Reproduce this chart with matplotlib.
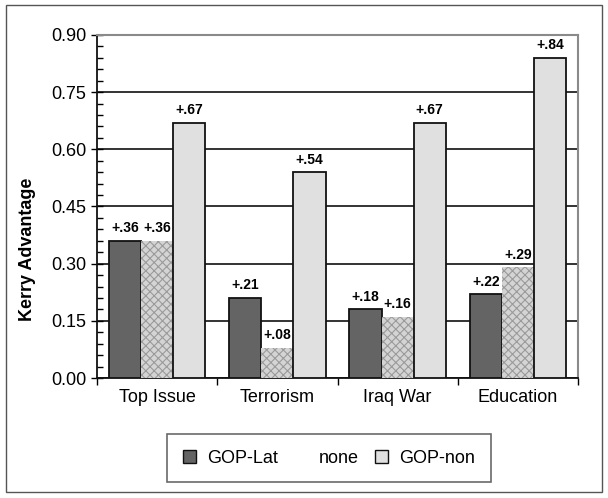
import matplotlib
matplotlib.use("Agg")
import matplotlib.pyplot as plt
import numpy as np
from matplotlib.patches import Patch, Rectangle
from matplotlib.ticker import MultipleLocator, FixedLocator, NullFormatter

plt.rcParams['font.family'] = ['Liberation Sans', 'DejaVu Sans']
plt.rcParams['hatch.color'] = '#9a9a9a'
plt.rcParams['hatch.linewidth'] = 0.8

categories = ["Top Issue", "Terrorism", "Iraq War", "Education"]
gop_lat = [0.36, 0.21, 0.18, 0.22]
none_vals = [0.36, 0.08, 0.16, 0.29]
gop_non = [0.67, 0.54, 0.67, 0.84]
series_names = ["GOP-Lat", "none", "GOP-non"]

fig = plt.figure(figsize=(6.08, 4.98), dpi=100)
ax = fig.add_axes([97 / 608, 1 - 378 / 498, (578 - 97) / 608, (378 - 35) / 498])

# outer frame around the whole figure
fig.patches.append(Rectangle((6 / 608, 6 / 498), 596 / 608, 487 / 498,
                             transform=fig.transFigure, fill=False,
                             edgecolor='#555555', linewidth=1.0))

x = np.arange(len(categories))
w = 0.267
ax.bar(x - w, gop_lat, w, color='#646464', edgecolor='#111111', linewidth=1.3, zorder=3)
ax.bar(x, none_vals, w, color='#d4d4d4', hatch='xxxx', edgecolor='#9a9a9a', linewidth=0, zorder=3)
ax.bar(x + w, gop_non, w, color='#e0e0e0', edgecolor='#111111', linewidth=1.3, zorder=3)

for xs, vals in ((x - w, gop_lat), (x, none_vals), (x + w, gop_non)):
    for xi, v in zip(xs, vals):
        ax.annotate("+" + f"{v:.2f}"[1:], (xi, v), xytext=(0, 4), textcoords='offset points',
                    ha='center', va='bottom', fontsize=10, fontweight='bold', zorder=4)

ax.set_xlim(-0.5, len(categories) - 0.5)
ax.set_ylim(0, 0.90)
ax.yaxis.set_major_locator(MultipleLocator(0.15))
ax.yaxis.set_minor_locator(MultipleLocator(0.03))
ax.yaxis.set_major_formatter(matplotlib.ticker.FormatStrFormatter('%.2f'))
ax.grid(axis='y', which='major', color='#111111', linewidth=1.2, zorder=1)
ax.tick_params(axis='y', which='major', direction='inout', length=9, width=1, labelsize=13, pad=3)
ax.tick_params(axis='y', which='minor', direction='in', length=4, width=1)

ax.xaxis.set_major_locator(FixedLocator(np.arange(-0.5, len(categories), 1.0)))
ax.xaxis.set_major_formatter(NullFormatter())
ax.xaxis.set_minor_locator(FixedLocator(x))
ax.set_xticklabels(categories, minor=True)
ax.tick_params(axis='x', which='major', direction='out', length=5, width=1)
ax.tick_params(axis='x', which='minor', length=0, labelsize=13, pad=8)

for s in ('left', 'bottom'):
    ax.spines[s].set_color('#111111')
    ax.spines[s].set_linewidth(1.3)
for s in ('top', 'right'):
    ax.spines[s].set_color('#8a8a8a')
    ax.spines[s].set_linewidth(1.5)

ax.set_ylabel("Kerry Advantage", fontsize=13, fontweight='bold', labelpad=10)
ax.yaxis.set_label_coords(28 / 608, 0.5, transform=fig.transFigure)
ax.yaxis.label.set_va('center')

handles = [Patch(facecolor='#646464', edgecolor='#111111', linewidth=1.0),
           Patch(facecolor='none', edgecolor='none'),
           Patch(facecolor='#e0e0e0', edgecolor='#111111', linewidth=1.0)]
leg = fig.legend(handles, series_names, loc='center', bbox_to_anchor=(329 / 608, 1 - 458 / 498),
                 ncol=3, fontsize=13, frameon=True, fancybox=False, edgecolor='#444444',
                 handlelength=0.75, handleheight=0.75, handletextpad=0.6, columnspacing=0.9,
                 borderpad=0.85)
leg.get_frame().set_linewidth(1.2)

fig.savefig("out.png", dpi=100)
